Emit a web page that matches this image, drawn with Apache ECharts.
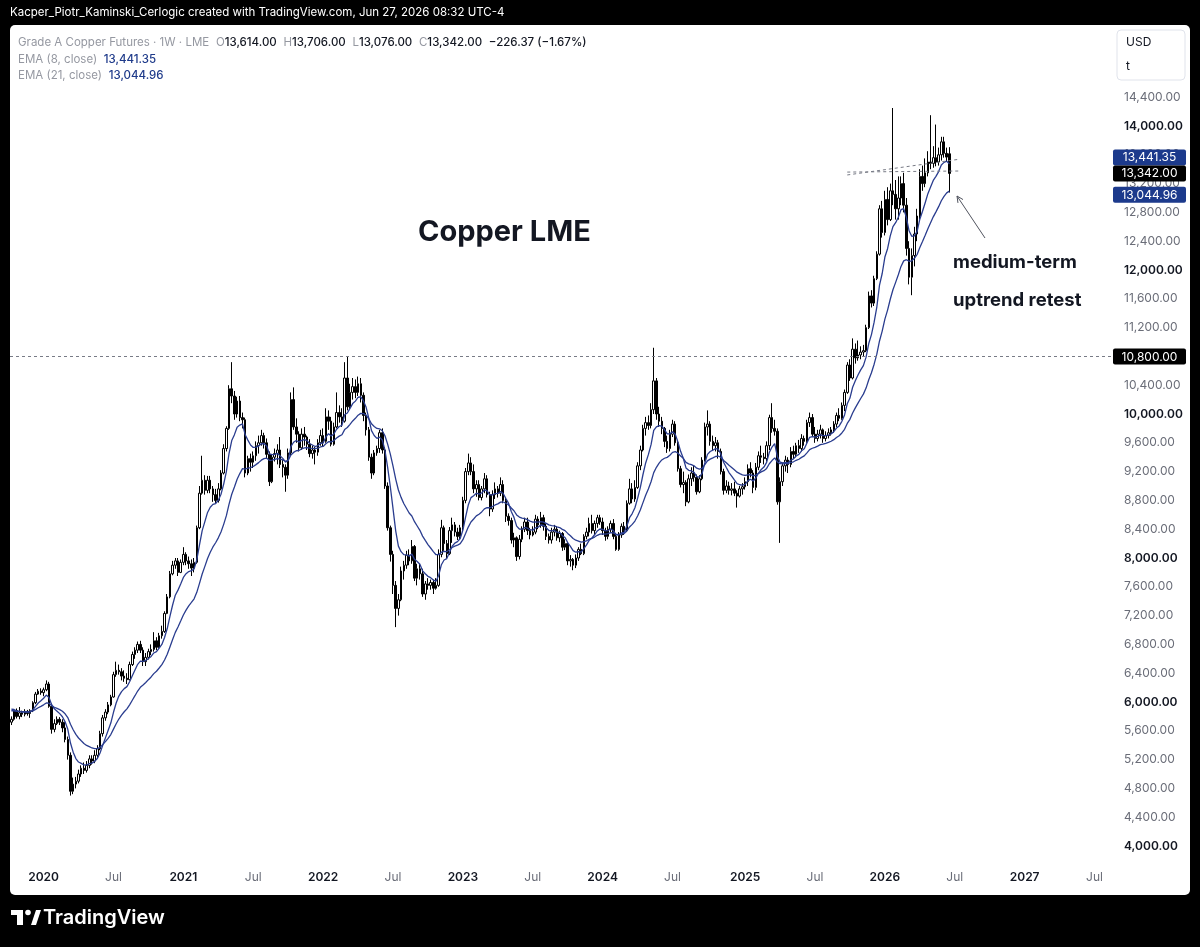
<!DOCTYPE html>
<html>
<head>
<meta charset="utf-8">
<script src="https://cdn.jsdelivr.net/npm/echarts@6/dist/echarts.min.js"></script>
<style>
  html, body { margin: 0; padding: 0; background: #000; }
  #chart { width: 1200px; height: 947px; }
</style>
</head>
<body>
<div id="chart"></div>
<script>
// weekly bars, first bar = week of Mon 14 Oct 2019, rows are [open, close, low, high]
const firstMonday = '2019-10-14';
const weekCount = 410; // visible time scale incl. empty future space

const candles2019 = [
  [5720,5760,5680,5800],[5760,5880,5740,5900],[5880,5800,5770,5910],[5800,5850,5760,5930],
  [5850,5830,5790,5880],[5830,5870,5800,5900],[5870,5840,5810,5890],[5840,5880,5780,5900],
  [5880,5990,5860,6010],[5990,6110,5970,6140],[6110,6150,6100,6180],[6150,6130,6100,6190]
];
const candles2020 = [
  [6130,6170,6080,6200],[6170,6250,6150,6300],[6250,5940,5920,6280],[5940,5620,5560,5980],
  [5620,5700,5580,5760],[5700,5760,5680,5800],[5760,5720,5680,5790],[5720,5640,5580,5760],
  [5640,5480,5440,5720],[5480,5260,5200,5520],[5260,4760,4700,5300],[4760,4860,4720,4950],
  [4860,4900,4800,4960],[4900,5000,4870,5060],[5000,5080,4960,5120],[5080,5050,5000,5160],
  [5050,5120,5020,5180],[5120,5210,5080,5260],[5210,5180,5130,5260],[5180,5260,5150,5330],
  [5260,5350,5220,5400],[5350,5560,5330,5600],[5560,5780,5520,5820],[5780,5860,5740,5900],
  [5860,5960,5830,6000],[5960,6070,5940,6100],[6070,6380,6060,6420],[6380,6440,6350,6560],
  [6440,6420,6380,6520],[6420,6360,6300,6470],[6360,6330,6280,6440],[6330,6310,6250,6400],
  [6310,6520,6300,6560],[6520,6660,6500,6700],[6660,6720,6600,6760],[6720,6800,6680,6840],
  [6800,6720,6680,6850],[6720,6560,6500,6760],[6560,6620,6500,6680],[6620,6700,6590,6740],
  [6700,6730,6650,6800],[6730,6850,6700,6970],[6850,6760,6720,6900],[6760,6920,6740,6960],
  [6920,6980,6880,7060],[6980,7230,6960,7260],[7230,7460,7220,7500],[7460,7780,7440,7820],
  [7780,7900,7760,7960],[7900,7960,7850,8000],[7960,7800,7750,8000],[7800,7940,7790,7980]
];
const candles2021 = [
  [7940,8050,7900,8150],[8050,7960,7900,8080],[7960,7920,7850,8020],[7920,7860,7750,7980],
  [7860,7940,7800,8000],[7940,8420,7920,8450],[8420,8900,8400,9000],[8900,9080,8880,9420],
  [9080,8940,8880,9150],[8940,9080,8900,9140],[9080,8960,8900,9140],[8960,8880,8780,9000],
  [8880,8800,8760,8960],[8800,8960,8770,9040],[8960,9180,8940,9220],[9180,9520,9160,9580],
  [9520,9800,9480,9830],[9800,10350,9780,10400],[10350,10250,10150,10720],[10250,10000,9920,10320],
  [10000,10180,9950,10240],[10180,9950,9900,10250],[9950,9920,9800,10020],[9920,9180,9120,9950],
  [9180,9380,9150,9420],[9380,9330,9200,9450],[9330,9420,9250,9480],[9420,9560,9350,9620],
  [9560,9600,9450,9700],[9600,9700,9560,9780],[9700,9600,9520,9740],[9600,9440,9380,9660],
  [9440,9060,9000,9480],[9060,9400,9040,9440],[9400,9450,9340,9520],[9450,9500,9300,9580],
  [9500,9300,9250,9680],[9300,9260,9120,9360],[9260,9150,8920,9300],[9150,9460,9100,9520],
  [9460,10200,9430,10300],[10200,9820,9780,10370],[9820,9720,9600,9940],[9720,9530,9480,9760],
  [9530,9720,9500,9800],[9720,9680,9560,9820],[9680,9580,9500,9700],[9580,9450,9400,9650],
  [9450,9500,9380,9560],[9500,9470,9300,9540],[9470,9600,9420,9650],[9600,9700,9560,9780]
];
const candles2022 = [
  [9700,9620,9550,9800],[9620,9960,9600,10080],[9960,9900,9780,10050],[9900,9580,9550,9960],
  [9580,9820,9560,9880],[9820,10020,9800,10300],[10020,9960,9880,10120],[9960,9900,9820,10080],
  [9900,10500,9880,10720],[10500,10100,10050,10800],[10100,10300,10060,10420],[10300,10380,10200,10500],
  [10380,10300,10220,10480],[10300,10420,10250,10520],[10420,10260,10160,10500],[10260,9980,9900,10300],
  [9980,9780,9700,10020],[9780,9400,9350,9820],[9400,9180,9100,9450],[9180,9460,9150,9500],
  [9460,9520,9420,9560],[9520,9740,9460,9780],[9740,9500,9450,9800],[9500,9000,8960,9540],
  [9000,8420,8380,9050],[8420,8050,7950,8450],[8050,7620,7500,8100],[7620,7300,7040,7680],
  [7300,7420,7200,7500],[7420,7820,7400,7880],[7820,7900,7700,7960],[7900,8040,7850,8100],
  [8040,7960,7900,8120],[7960,8160,7920,8250],[8160,7720,7680,8180],[7720,7850,7620,7920],
  [7850,7780,7700,7920],[7780,7500,7460,7850],[7500,7640,7420,7680],[7640,7620,7560,7720],
  [7620,7660,7560,7700],[7660,7580,7500,7700],[7580,7620,7560,7720],[7620,8050,7600,8120],
  [8050,8420,8010,8530],[8420,8200,8100,8450],[8200,8060,8000,8250],[8060,8380,8040,8430],
  [8380,8460,8210,8560],[8460,8360,8300,8500],[8360,8300,8250,8420],[8300,8420,8260,8460]
];
const candles2023 = [
  [8420,8800,8380,8850],[8800,9200,8760,9250],[9200,9320,9150,9450],[9320,9200,9150,9400],
  [9200,8960,8900,9300],[8960,9020,8850,9080],[9020,8840,8800,9080],[8840,8960,8800,9000],
  [8960,9100,8900,9180],[9100,8880,8840,9150],[8880,8680,8580,8920],[8680,8880,8640,8940],
  [8880,8960,8820,9050],[8960,8900,8840,9000],[8900,9020,8860,9120],[9020,8800,8760,9080],
  [8800,8580,8500,8840],[8580,8520,8450,8620],[8520,8250,8200,8560],[8250,8280,8150,8350],
  [8280,8020,7960,8300],[8020,8260,7980,8320],[8260,8400,8220,8440],[8400,8500,8360,8560],
  [8500,8380,8320,8560],[8380,8320,8260,8420],[8320,8360,8300,8440],[8360,8540,8330,8600],
  [8540,8460,8400,8580],[8460,8560,8420,8640],[8560,8440,8380,8600],[8440,8300,8250,8480],
  [8300,8250,8200,8340],[8250,8360,8200,8420],[8360,8400,8300,8460],[8400,8280,8240,8440],
  [8280,8340,8220,8380],[8340,8150,8100,8360],[8150,8200,8110,8260],[8200,7960,7900,8220],
  [7960,7980,7880,8040],[7980,7900,7830,8000],[7900,8000,7860,8050],[8000,8120,7960,8150],
  [8120,8060,8040,8200],[8060,8300,8040,8330],[8300,8360,8260,8420],[8360,8480,8300,8560],
  [8480,8380,8340,8600],[8380,8480,8320,8520],[8480,8560,8420,8600],[8560,8500,8460,8600]
];
const candles2024 = [
  [8500,8380,8320,8560],[8380,8300,8240,8420],[8300,8400,8260,8440],[8400,8480,8360,8520],
  [8480,8300,8260,8540],[8300,8120,8100,8340],[8120,8320,8100,8360],[8320,8440,8280,8480],
  [8440,8380,8320,8500],[8380,8760,8360,8800],[8760,8960,8740,9100],[8960,8820,8760,9040],
  [8820,8980,8780,9080],[8980,9280,8960,9330],[9280,9500,9220,9560],[9500,9800,9480,9850],
  [9800,9880,9700,9960],[9880,9840,9780,9980],[9840,10060,9800,10150],[10060,10460,10000,10920],
  [10460,10000,9920,10500],[10000,9900,9820,10100],[9900,9800,9720,9960],[9800,9620,9540,9820],
  [9620,9520,9460,9700],[9520,9720,9480,9780],[9720,9860,9680,9920],[9860,9600,9560,9900],
  [9600,9240,9200,9640],[9240,9020,8980,9280],[9020,9050,8900,9200],[9050,8780,8720,9080],
  [8780,9100,8760,9160],[9100,9180,9000,9260],[9180,9120,9060,9280],[9120,8920,8880,9160],
  [8920,9100,8900,9150],[9100,9360,9080,9400],[9360,9820,9340,9880],[9820,9860,9700,10050],
  [9860,9620,9560,9900],[9620,9560,9500,9700],[9560,9600,9480,9680],[9600,9480,9380,9640],
  [9480,9200,9160,9520],[9200,8940,8880,9240],[8940,9000,8900,9080],[9000,8940,8880,9060],
  [8940,8960,8870,9040],[8960,8900,8860,9060],[8900,8860,8700,8940],[8860,8960,8840,9000],
  [8960,8990,8880,9040]
];
const candles2025 = [
  [8990,9060,8950,9120],[9060,9240,9000,9300],[9240,9180,9120,9330],[9180,8980,8900,9220],
  [8980,9260,8940,9320],[9260,9420,9220,9480],[9420,9400,9320,9560],[9400,9380,9300,9460],
  [9380,9560,9340,9620],[9560,9950,9500,9990],[9950,9800,9740,10150],[9800,9760,9700,9920],
  [9760,8780,8740,9800],[8780,9060,8210,9120],[9060,9280,9000,9320],[9280,9360,9200,9420],
  [9360,9300,9180,9400],[9300,9480,9260,9540],[9480,9440,9380,9560],[9440,9560,9400,9600],
  [9560,9520,9460,9640],[9520,9660,9480,9720],[9660,9620,9560,9700],[9620,9880,9600,9920],
  [9880,9950,9820,10020],[9950,9720,9680,10000],[9720,9660,9600,9820],[9660,9720,9620,9780],
  [9720,9780,9660,9850],[9780,9660,9600,9800],[9660,9700,9620,9760],[9700,9740,9660,9800],
  [9740,9780,9700,9820],[9780,9860,9740,9900],[9860,9980,9820,10020],[9980,9940,9900,10080],
  [9940,10120,9920,10160],[10120,10300,10040,10340],[10300,10680,10280,10720],[10680,10500,10460,10760],
  [10500,10900,10480,11050],[10900,10780,10700,10980],[10780,10820,10740,11020],[10820,10860,10760,10940],
  [10860,10880,10800,10960],[10880,11200,10860,11240],[11200,11640,11180,11700],[11640,11540,11480,11720],
  [11540,11880,11500,11920],[11880,12220,11860,12260],[12220,12850,12200,12900],[12850,12520,12450,12960]
];
const candles2026 = [
  [12520,12980,12480,13100],[12980,12700,12620,13150],[12700,13100,12680,13200],[13100,13050,12900,14250],
  [13050,12850,12700,13250],[12850,13000,12700,13300],[13000,13200,12900,13300],[13200,12900,12800,13350],
  [12900,12300,12200,13000],[12300,11900,11800,12400],[11900,12200,11650,12300],[12200,12500,12050,12600],
  [12500,12750,12400,12850],[12750,13300,12700,13400],[13300,13200,13100,13450],[13200,13350,13150,13550],
  [13350,13500,13300,13650],[13500,13480,13400,14150],[13480,13560,13420,13720],[13560,13500,13440,14020],
  [13500,13600,13450,13700],[13600,13780,13520,13850],[13780,13620,13560,13850],[13620,13568,13500,13700],
  [13614,13342,13076,13706]
];

// EMA starting levels read at the left edge of the picture
const ema8Seed = 5940;
const ema21Seed = 5890;

// last values shown in the legend / price scale
const lastClose = 13342.00;
const lastEma8 = 13441.35;
const lastEma21 = 13044.96;
const levelLine = 10800;
// user drawn dashed lines near the top: [week index, price]
const trendLines = [
  [[311, 13360], [353, 13375]],
  [[311, 13320], [353, 13540]]
];

const candles = [].concat(candles2019, candles2020, candles2021, candles2022,
  candles2023, candles2024, candles2025, candles2026);
const closes = candles.map(c => c[1]);

function ema(values, period, seed) {
  const k = 2 / (period + 1);
  let e = seed;
  return values.map(v => { e = e + k * (v - e); return +e.toFixed(2); });
}
const ema8 = ema(closes, 8, ema8Seed);
const ema21 = ema(closes, 21, ema21Seed);

const weeks = [];
const t0 = Date.parse(firstMonday + 'T00:00:00Z');
for (let i = 0; i < weekCount; i++) {
  weeks.push(new Date(t0 + i * 7 * 86400000).toISOString().slice(0, 10));
}
const monthOf = s => +s.slice(5, 7);
const labelWeeks = new Set();
weeks.forEach((w, i) => {
  const m = monthOf(w);
  if ((m === 1 || m === 7) && i > 0 && monthOf(weeks[i - 1]) !== m) labelWeeks.add(i);
});

const FONT = 'Inter, "Noto Sans", sans-serif';
const fmt = v => v.toLocaleString('en-US', { minimumFractionDigits: 2, maximumFractionDigits: 2 });

const chart = echarts.init(document.getElementById('chart'));

const option = {
  backgroundColor: '#000000',
  animation: false,
  grid: { left: 10, right: 88, top: 10.8, bottom: 72.2 },
  xAxis: {
    type: 'category',
    data: weeks,
    boundaryGap: true,
    offset: -12.8,
    axisLine: { show: false },
    axisTick: { show: false },
    splitLine: { show: false },
    axisLabel: {
      margin: 9,
      interval: (i) => labelWeeks.has(i),
      formatter: (v) => monthOf(v) === 1 ? '{y|' + v.slice(0, 4) + '}' : '{m|Jul}',
      rich: {
        y: { fontFamily: FONT, fontSize: 12, fontWeight: 600, color: '#131722' },
        m: { fontFamily: FONT, fontSize: 12, color: '#6a6d78' }
      }
    }
  },
  yAxis: {
    type: 'value',
    position: 'right',
    min: 3600,
    max: 15600,
    interval: 400,
    axisLine: { show: false },
    axisTick: { show: false },
    splitLine: { show: false },
    axisLabel: {
      margin: 12,
      align: 'left',
      formatter: (v) => {
        if (v < 4000 || v > 14400) return '';
        return v % 2000 === 0 ? '{b|' + fmt(v) + '}' : '{n|' + fmt(v) + '}';
      },
      rich: {
        b: { fontFamily: FONT, fontSize: 12, fontWeight: 600, color: '#131722' },
        n: { fontFamily: FONT, fontSize: 12, color: '#6a6d78' }
      }
    }
  },
  series: [
    {
      type: 'candlestick',
      data: candles,
      barWidth: 2,
      itemStyle: {
        color: '#ffffff',
        color0: '#000000',
        borderColor: '#000000',
        borderColor0: '#000000',
        borderWidth: 1
      },
      markLine: {
        silent: true,
        symbol: 'none',
        label: { show: false },
        lineStyle: { color: '#787b86', type: [3, 3], width: 1 },
        data: [
          { yAxis: levelLine },
          ...trendLines.map(l => [
            { coord: [l[0][0], l[0][1]] },
            { coord: [l[1][0], l[1][1]] }
          ])
        ]
      },
      z: 3
    },
    {
      type: 'line', data: ema8, symbol: 'none', smooth: false,
      lineStyle: { color: '#2a3d8f', width: 1.3 }, z: 4
    },
    {
      type: 'line', data: ema21, symbol: 'none', smooth: false,
      lineStyle: { color: '#2a3d8f', width: 1.3 }, z: 4
    }
  ]
};
chart.setOption(option);

// price tags on the right scale, placed from the y scale
const py = v => chart.convertToPixel({ yAxisIndex: 0 }, v);
const yClose = py(lastClose);
const yEma21 = py(lastEma21);
const yEma8 = Math.min(py(lastEma8), yClose - 16);
const yLevel = py(levelLine);

function tag(id, y, text, bg) {
  return {
    type: 'group', id, x: 1113, y: y - 8, zlevel: 1, z: 100,
    children: [
      { type: 'rect', zlevel: 1, z: 100, shape: { x: 0, y: 0, width: 73, height: 16, r: 2 }, style: { fill: bg } },
      { type: 'text', zlevel: 1, z: 101, x: 36.5, y: 8.5, style: { text, fill: '#ffffff', font: '12px ' + FONT, align: 'center', verticalAlign: 'middle' } }
    ]
  };
}

// arrow pointing at the EMA21 end
const ax0 = 985, ay0 = 238, ax1 = 957, ay1 = 196;
const ang = Math.atan2(ay1 - ay0, ax1 - ax0);
const head = 7;

const lg = { fill: '#9598a1', font: '11.5px ' + FONT };

chart.setOption({
  graphic: [
    // white chart panel
    { type: 'rect', z: -10, shape: { x: 10, y: 25, width: 1180, height: 870, r: 5 }, style: { fill: '#ffffff' } },
    // header line
    { type: 'text', x: 10, y: 13, zlevel: 1, style: { text: 'Kacper_Piotr_Kaminski_Cerlogic created with TradingView.com, Jun 27, 2026 08:32 UTC-4', fill: '#ffffff', font: '11.5px ' + FONT, verticalAlign: 'middle' } },
    // legend
    {
      type: 'text', x: 18, y: 43, zlevel: 1,
      style: {
        text: '{g|Grade A Copper Futures · 1W · LME}  {g|O}{v|13,614.00}  {g|H}{v|13,706.00}  {g|L}{v|13,076.00}  {g|C}{v|13,342.00}  {v|\u2212226.37 (\u22121.67%)}',
        verticalAlign: 'middle',
        rich: { g: lg, v: { fill: '#131722', font: '500 11.5px ' + FONT } }
      }
    },
    {
      type: 'text', x: 18, y: 59.5, zlevel: 1,
      style: {
        text: '{g|EMA (8, close)}  {b|13,441.35}',
        verticalAlign: 'middle',
        rich: { g: lg, b: { fill: '#1e3a8a', font: '500 11.5px ' + FONT } }
      }
    },
    {
      type: 'text', x: 18, y: 76, zlevel: 1,
      style: {
        text: '{g|EMA (21, close)}  {b|13,044.96}',
        verticalAlign: 'middle',
        rich: { g: lg, b: { fill: '#1e3a8a', font: '500 11.5px ' + FONT } }
      }
    },
    // currency box
    { type: 'rect', zlevel: 1, shape: { x: 1117, y: 30, width: 68, height: 50, r: 4 }, style: { fill: '#ffffff', stroke: '#e0e3eb', lineWidth: 1 } },
    { type: 'text', zlevel: 1, z: 2, x: 1126, y: 42, style: { text: 'USD', fill: '#131722', font: '12px ' + FONT, verticalAlign: 'middle' } },
    { type: 'text', zlevel: 1, z: 2, x: 1126, y: 66, style: { text: 't', fill: '#131722', font: '12px ' + FONT, verticalAlign: 'middle' } },
    // price tags
    tag('tLevel', yLevel, fmt(levelLine), '#000000'),
    tag('tEma8', yEma8, fmt(lastEma8), '#1c3a8c'),
    tag('tClose', yClose, fmt(lastClose), '#000000'),
    tag('tEma21', yEma21, fmt(lastEma21), '#1c3a8c'),
    // annotations
    { type: 'text', x: 418, y: 232, zlevel: 1, style: { text: 'Copper LME', fill: '#131722', font: 'bold 29px ' + FONT, verticalAlign: 'middle' } },
    { type: 'text', x: 953, y: 262, zlevel: 1, style: { text: 'medium-term', fill: '#131722', font: 'bold 18.5px ' + FONT, verticalAlign: 'middle' } },
    { type: 'text', x: 953, y: 300, zlevel: 1, style: { text: 'uptrend retest', fill: '#131722', font: 'bold 18.5px ' + FONT, verticalAlign: 'middle' } },
    { type: 'line', zlevel: 1, shape: { x1: ax0, y1: ay0, x2: ax1, y2: ay1 }, style: { stroke: '#50535e', lineWidth: 1 } },
    { type: 'polyline', zlevel: 1, shape: { points: [
        [ax1 - head * Math.cos(ang - 0.45), ay1 - head * Math.sin(ang - 0.45)],
        [ax1, ay1],
        [ax1 - head * Math.cos(ang + 0.45), ay1 - head * Math.sin(ang + 0.45)]
      ] }, style: { stroke: '#50535e', lineWidth: 1, fill: 'none' } },
    // TradingView logo
    { type: 'rect', zlevel: 1, shape: { x: 11, y: 910, width: 12, height: 5 }, style: { fill: '#ffffff' } },
    { type: 'rect', zlevel: 1, shape: { x: 17, y: 910, width: 6, height: 15 }, style: { fill: '#ffffff' } },
    { type: 'circle', zlevel: 1, shape: { cx: 28, cy: 912.5, r: 2.8 }, style: { fill: '#ffffff' } },
    { type: 'polygon', zlevel: 1, shape: { points: [[31, 925], [36, 910], [41, 910], [36, 925]] }, style: { fill: '#ffffff' } },
    { type: 'text', x: 43, y: 918, zlevel: 1, style: { text: 'TradingView', fill: '#ffffff', font: '600 20px ' + FONT, verticalAlign: 'middle' } }
  ]
});

window.addEventListener('resize', () => chart.resize());
</script>
</body>
</html>
